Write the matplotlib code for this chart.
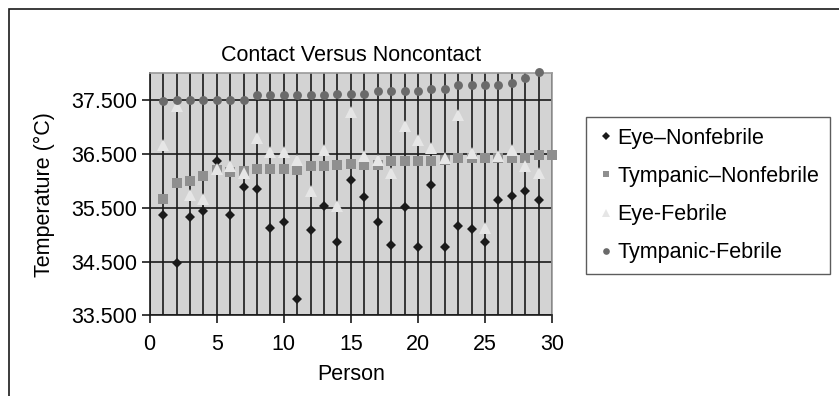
import matplotlib
matplotlib.use("Agg")
import matplotlib.pyplot as plt
from matplotlib.patches import Rectangle
from matplotlib.ticker import MultipleLocator, FormatStrFormatter

plt.rcParams["font.family"] = ["Liberation Sans", "DejaVu Sans"]

# values
eye_nonfebrile = [35.37, 34.48, 35.34, 35.44, 36.38, 35.37, 35.89, 35.85, 35.13, 35.23,
                  33.80, 35.09, 35.54, 34.86, 36.02, 35.71, 35.23, 34.82, 35.52, 34.78,
                  35.92, 34.78, 35.17, 35.10, 34.86, 35.65, 35.72, 35.82, 35.64]
tympanic_nonfebrile = [35.67, 35.97, 36.01, 36.10, 36.21, 36.17, 36.18, 36.22, 36.22, 36.22,
                       36.21, 36.28, 36.28, 36.30, 36.32, 36.30, 36.30, 36.38, 36.38, 36.38,
                       36.38, 36.39, 36.42, 36.42, 36.43, 36.42, 36.42, 36.43, 36.48, 36.48]
eye_febrile = [36.67, 37.39, 35.74, 35.66, 36.22, 36.28, 36.15, 36.80, 36.54, 36.54,
               36.40, 35.82, 36.57, 35.54, 37.29, 36.46, 36.40, 36.15, 37.02, 36.77,
               36.62, 36.42, 37.22, 36.52, 35.12, 36.46, 36.57, 36.28, 36.15]
tympanic_febrile = [37.48, 37.50, 37.50, 37.50, 37.50, 37.50, 37.50, 37.60, 37.60, 37.60,
                    37.60, 37.60, 37.60, 37.61, 37.62, 37.62, 37.68, 37.68, 37.68, 37.68,
                    37.71, 37.71, 37.79, 37.79, 37.79, 37.79, 37.83, 37.92, 38.02]
y_ticks = [33.5, 34.5, 35.5, 36.5, 37.5]

series = [
    ("Eye\u2013Nonfebrile", eye_nonfebrile, "D", 5.4, "#1a1a1a"),
    ("Tympanic\u2013Nonfebrile", tympanic_nonfebrile, "s", 6.5, "#8f8f8f"),
    ("Eye-Febrile", eye_febrile, "^", 8.0, "#e6e6e6"),
    ("Tympanic-Febrile", tympanic_febrile, "o", 6.4, "#6a6a6a"),
]

FS = 15.5

fig = plt.figure(figsize=(8.39, 3.96), dpi=100)
ax = fig.add_axes([0.1784, 0.2033, 0.4796, 0.6111])
ax.set_facecolor("#d3d3d3")

for label, vals, marker, size, color in series:
    persons = list(range(1, len(vals) + 1))
    ax.plot(persons, vals, linestyle="none", marker=marker, markersize=size,
            color=color, markeredgewidth=0, label=label, clip_on=False, zorder=3)

ax.set_xlim(0, 30)
ax.set_ylim(33.5, 38.0)
ax.xaxis.set_major_locator(MultipleLocator(5))
ax.xaxis.set_minor_locator(MultipleLocator(1))
ax.set_yticks(y_ticks)
ax.yaxis.set_major_formatter(FormatStrFormatter("%.3f"))

ax.grid(True, which="both", axis="x", color="#1a1a1a", linewidth=1.2)
ax.grid(True, which="major", axis="y", color="#1a1a1a", linewidth=1.2)
ax.set_axisbelow(True)

ax.tick_params(axis="both", which="major", direction="out", length=6, width=1.2,
               color="#1a1a1a", labelsize=FS, pad=3)
ax.tick_params(axis="x", which="major", pad=7)
ax.tick_params(axis="x", which="minor", length=0)

for side in ("left", "bottom"):
    ax.spines[side].set_color("#1a1a1a")
    ax.spines[side].set_linewidth(1.2)
for side in ("top", "right"):
    ax.spines[side].set_color("#9a9a9a")
    ax.spines[side].set_linewidth(1.2)

ax.set_title("Contact Versus Noncontact", fontsize=FS, pad=9)
ax.set_xlabel("Person", fontsize=FS, labelpad=7)
ax.set_ylabel("Temperature (\u00b0C)", fontsize=FS, labelpad=12)

leg = fig.legend(loc="upper left", bbox_to_anchor=(586 / 839, 1 - 117 / 396),
                 fontsize=FS, frameon=True, fancybox=False, markerscale=0.75,
                 handletextpad=0.1, handlelength=0.85, labelspacing=0.8,
                 borderpad=0.5, borderaxespad=0)
leg.get_frame().set_edgecolor("#333333")
leg.get_frame().set_linewidth(1.0)

# outer frame of the figure (only top and left edges are visible)
fig.patches.append(Rectangle((9 / 839, -0.2), 1.2, 1.2 - 9 / 396,
                             transform=fig.transFigure, fill=False,
                             edgecolor="#1a1a1a", linewidth=1.2))

fig.savefig("out.png", dpi=100)
